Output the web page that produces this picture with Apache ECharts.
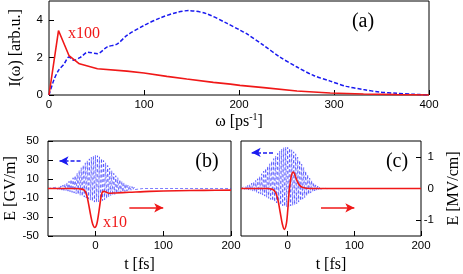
<!DOCTYPE html>
<html>
<head>
<meta charset="utf-8">
<script src="https://cdn.jsdelivr.net/npm/echarts@6/dist/echarts.min.js"></script>
<style>html,body{margin:0;padding:0;background:#fff;}#c{width:463px;height:274px;}</style>
</head>
<body>
<div id="c"></div>
<script>
// ---- Panel (a): spectra ----
const omegaBlue = [0,5,10,16,21,26,33,41,51,61,72,82,100,117,135,147,166,187,201,208,226,243,261,278,296,313,331,348,366,383,400];
const specBlue  = [0,0.78,1.31,1.66,2.02,1.85,2.0,2.28,2.2,2.55,2.72,3.17,3.7,4.1,4.4,4.49,4.32,3.82,3.45,3.26,2.64,2.02,1.49,1.05,0.74,0.46,0.29,0.16,0.09,0.04,0];
const omegaRed  = [0,10,21,32,51,82,100,124,145,173,191,201,226,261,296,331,366,400];
const specRed   = [0,3.43,2.1,1.66,1.4,1.27,1.17,0.99,0.85,0.67,0.58,0.51,0.39,0.21,0.11,0.05,0.02,0];

// ---- Panel (b): driving pulse (t [fs], E [GV/m]) and emitted field (x10) ----
const pulseB = [[-70,0],[-66,0.4],[-64.5,-0.3],[-63,0.7],[-61.5,-0.5],[-60,1.0],[-58.5,-0.7],[-57,1.5],[-55.5,-1.0],[-54,2.1],[-52.5,-1.3],[-51,2.7],[-49.5,-1.7],[-48,3.6],[-46.5,-2.0],[-45,4.7],[-43.5,-2.4],[-42,6.0],[-40.5,-2.8],[-39,7.6],[-37.5,-3.4],[-36,9.3],[-34.5,-4.1],[-33,11.3],[-31.5,-4.8],[-30,13.5],[-28.5,-5.5],[-27,16],[-25.5,-6.3],[-24,19],[-22.5,-7.1],[-21,21.8],[-19.5,-8],[-18,24.5],[-16.5,-9],[-15,27],[-13.5,-10],[-12,29.2],[-10.5,-11],[-9,31.2],[-7.5,-12.2],[-6,33],[-4.5,-13.3],[-3,34.3],[-1.5,-14.3],[0,35],[1.5,-14.5],[3,34.5],[4.5,-14],[6,33.3],[7.5,-13.3],[9,31.5],[10.5,-12.8],[12,29.5],[13.5,-11.8],[15,27],[16.5,-10.5],[18,24.3],[19.5,-9],[21,21.5],[22.5,-7.8],[24,18.7],[25.5,-7],[27,16],[28.5,-6.2],[30,13.5],[31.5,-5.5],[33,11.3],[34.5,-4.8],[36,9.3],[37.5,-4.2],[39,7.5],[40.5,-3.7],[42,6],[43.5,-3.2],[45,4.7],[46.5,-2.7],[48,3.6],[49.5,-2.2],[51,2.7],[52.5,-1.8],[54,2],[55.5,-1.4],[57,1.4],[58.5,-1.1],[60,1],[61.5,-0.8],[63,0.6],[64.5,-0.5],[66,0.3],[70,0],[200,0]];
const emitB = [[-70,0],[-30,0],[-20,-0.02],[-16,-0.06],[-13,-0.2],[-10,-0.5],[-7,-0.85],[-4,-1.13],[-1,-1.23],[2,-1.12],[5,-0.75],[8,-0.3],[10,-0.12],[13,-0.09],[16,-0.12],[20,-0.15],[30,-0.14],[50,-0.12],[80,-0.09],[120,-0.07],[160,-0.06],[200,-0.05]];

// ---- Panel (c) ----
const pulseC = [[-70,-0.5],[-69,1.3],[-67.5,-0.6],[-66,1.8],[-64.5,-0.9],[-63,2.5],[-61.5,-1.2],[-60,3.4],[-58.5,-1.6],[-57,4.5],[-55.5,-2.1],[-54,5.7],[-52.5,-2.7],[-51,7],[-49.5,-3.4],[-48,8.5],[-46.5,-4.2],[-45,10.3],[-43.5,-5],[-42,12.6],[-40.5,-5.9],[-39,15.5],[-37.5,-6.9],[-36,18.3],[-34.5,-8],[-33,21],[-31.5,-9.2],[-30,23.5],[-28.5,-10.4],[-27,26],[-25.5,-11.6],[-24,28.7],[-22.5,-12.8],[-21,31.5],[-19.5,-14],[-18,34.2],[-16.5,-15.2],[-15,37],[-13.5,-16.3],[-12,39.5],[-10.5,-17.3],[-9,41.5],[-7.5,-18.2],[-6,43],[-4.5,-18.8],[-3,43.6],[-1.5,-19],[0,43.3],[1.5,-18.8],[3,42.3],[4.5,-18.3],[6,40.7],[7.5,-17.8],[9,38.7],[10.5,-17.2],[12,36.5],[13.5,-16],[15,33],[16.5,-14.3],[18,29.5],[19.5,-12.8],[21,25.8],[22.5,-11.2],[24,22],[25.5,-9.5],[27,18.2],[28.5,-7.8],[30,14.5],[31.5,-6.2],[33,11],[34.5,-4.8],[36,8.3],[37.5,-3.5],[39,5.8],[40.5,-2.5],[42,3.8],[43.5,-1.7],[45,2.5],[46.5,-1.1],[48,1.5],[49.5,-0.7],[51,0.9],[52.5,-0.4],[54,0.5],[55.5,-0.2],[57,0.3],[58.5,-0.1],[60,0.1],[65,0],[200,0]];
const emitC = [[-70,0],[-30,0],[-24,-0.02],[-20,-0.07],[-17,-0.18],[-14,-0.42],[-11,-0.78],[-8,-1.12],[-5,-1.29],[-2,-1.12],[0,-0.72],[2,-0.15],[4,0.22],[6,0.44],[8,0.52],[10,0.48],[12,0.36],[15,0.2],[18,0.1],[22,0.04],[28,0.01],[35,0],[200,0]];

// ---- Tick values ----
const ticksOmega = [0,100,200,300,400];
const ticksI = [0,2,4];
const ticksT = [0,100,200];
const ticksGV = [-50,-30,-10,10,30,50];
const ticksMV = [-1,0,1];

// ---- Arrow annotations (data coordinates) ----
const arrowBlueB = [[-22,29],[-53,29]];
const arrowRedB  = [[50,-0.61],[100,-0.61]];
const arrowBlueC = [[-22,38],[-54,38]];
const arrowRedC  = [[50,-0.61],[100,-0.61]];

const RED = '#f01818', BLUE = '#1a1af0', PULSE = '#3232ff';
const SANS = 'Liberation Sans', SERIF = 'Liberation Serif';

function xAx(grid, min, max, ticks, name, gap) {
  return {
    type: 'value', gridIndex: grid, min: min, max: max,
    axisLine: {show: false, onZero: false}, splitLine: {show: false},
    axisTick: {show: true, inside: true, length: 5, customValues: ticks, lineStyle: {color: '#000'}},
    axisLabel: {customValues: ticks, margin: 4, fontFamily: SANS, fontSize: 11.5, color: '#000'},
    name: name, nameLocation: 'middle', nameGap: gap,
    nameTextStyle: {fontFamily: SERIF, fontSize: 16, color: '#000',
      rich: {a: {fontFamily: SERIF, fontSize: 16, color: '#000'},
             s: {fontFamily: SERIF, fontSize: 10, color: '#000', verticalAlign: 'top', padding: [0,0,10,0]}}}
  };
}
function yAx(grid, min, max, ticks, name, gap, pos, labelOpt) {
  return {
    type: 'value', gridIndex: grid, min: min, max: max, position: pos,
    axisLine: {show: false, onZero: false}, splitLine: {show: false},
    axisTick: {show: true, inside: true, length: 5, customValues: ticks, lineStyle: {color: '#000'}},
    axisLabel: Object.assign({customValues: ticks, fontFamily: SANS, fontSize: 11.5, color: '#000'}, labelOpt),
    name: name, nameLocation: 'middle', nameGap: gap, nameRotate: 90,
    nameTextStyle: {fontFamily: SERIF, fontSize: 16, color: '#000'}
  };
}
function hiddenY(grid, min, max, pos) {
  return {type: 'value', gridIndex: grid, min: min, max: max, position: pos, show: false,
          axisLine: {show: false, onZero: false}, splitLine: {show: false}};
}
function arrow(coords, color, dashed) {
  return {
    silent: true, animation: false, symbol: ['none', 'arrow'], symbolSize: [7, 9],
    label: {show: false},
    lineStyle: {color: color, width: 1.5, type: dashed ? [4, 2] : 'solid', opacity: 1},
    data: [[{coord: coords[0]}, {coord: coords[1]}]]
  };
}

const chart = echarts.init(document.getElementById('c'), null, {renderer: 'canvas'});
chart.setOption({
  animation: false,
  textStyle: {fontFamily: SANS},
  grid: [
    {left: 48, top: 1, width: 381, height: 94, show: true, borderColor: '#000', borderWidth: 1, backgroundColor: 'transparent'},
    {left: 48, top: 141, width: 183, height: 95, show: true, borderColor: '#000', borderWidth: 1, backgroundColor: 'transparent'},
    {left: 241, top: 141, width: 182.5, height: 95, show: true, borderColor: '#000', borderWidth: 1, backgroundColor: 'transparent'}
  ],
  xAxis: [
    xAx(0, 0, 400, ticksOmega, '{a|ω [ps}{s|-1}{a|]}', 14),
    xAx(1, -70, 200, ticksT, 't [fs]', 21),
    xAx(2, -70, 200, ticksT, 't [fs]', 21)
  ],
  yAxis: [
    yAx(0, 0, 5, ticksI, 'I(ω) [arb.u.]', 25, 'left', {margin: 6}),
    yAx(1, -50, 50, ticksGV, 'E [GV/m]', 27, 'left', {margin: 9}),
    hiddenY(1, -1.5, 1.5, 'right'),
    hiddenY(2, -50, 50, 'left'),
    yAx(2, -1.5, 1.5, ticksMV, 'E [MV/cm]', 25, 'right', {margin: 13, align: 'right'})
  ],
  series: [
    {type: 'line', xAxisIndex: 0, yAxisIndex: 0, showSymbol: false, smooth: 0.3,
     data: omegaBlue.map((w, i) => [w, specBlue[i]]),
     lineStyle: {color: BLUE, width: 1.5, type: [4, 2]}},
    {type: 'line', xAxisIndex: 0, yAxisIndex: 0, showSymbol: false,
     data: omegaRed.map((w, i) => [w, specRed[i]]),
     lineStyle: {color: RED, width: 1.6}},
    {type: 'line', xAxisIndex: 1, yAxisIndex: 1, showSymbol: false, data: pulseB,
     lineStyle: {color: PULSE, width: 0.8, type: [3, 2], opacity: 0.8, join: 'bevel'},
     markLine: arrow(arrowBlueB, BLUE, true)},
    {type: 'line', xAxisIndex: 1, yAxisIndex: 2, showSymbol: false, smooth: 0.3, data: emitB,
     lineStyle: {color: RED, width: 1.6},
     markLine: arrow(arrowRedB, RED, false)},
    {type: 'line', xAxisIndex: 2, yAxisIndex: 3, showSymbol: false, data: pulseC,
     lineStyle: {color: PULSE, width: 0.8, type: [3, 2], opacity: 0.8, join: 'bevel'},
     markLine: arrow(arrowBlueC, BLUE, true)},
    {type: 'line', xAxisIndex: 2, yAxisIndex: 4, showSymbol: false, smooth: 0.3, data: emitC,
     lineStyle: {color: RED, width: 1.6},
     markLine: arrow(arrowRedC, RED, false)}
  ],
  graphic: [
    {type: 'text', x: 363, y: 22, style: {text: '(a)', font: '20px "Liberation Serif"', fill: '#000', align: 'center', verticalAlign: 'middle'}},
    {type: 'text', x: 207, y: 162, style: {text: '(b)', font: '20px "Liberation Serif"', fill: '#000', align: 'center', verticalAlign: 'middle'}},
    {type: 'text', x: 397, y: 162, style: {text: '(c)', font: '20px "Liberation Serif"', fill: '#000', align: 'center', verticalAlign: 'middle'}},
    {type: 'text', x: 68, y: 34, style: {text: 'x100', font: '16px "Liberation Serif"', fill: RED, align: 'left', verticalAlign: 'middle'}},
    {type: 'text', x: 103, y: 223, style: {text: 'x10', font: '16px "Liberation Serif"', fill: RED, align: 'left', verticalAlign: 'middle'}}
  ]
});
</script>
</body>
</html>
